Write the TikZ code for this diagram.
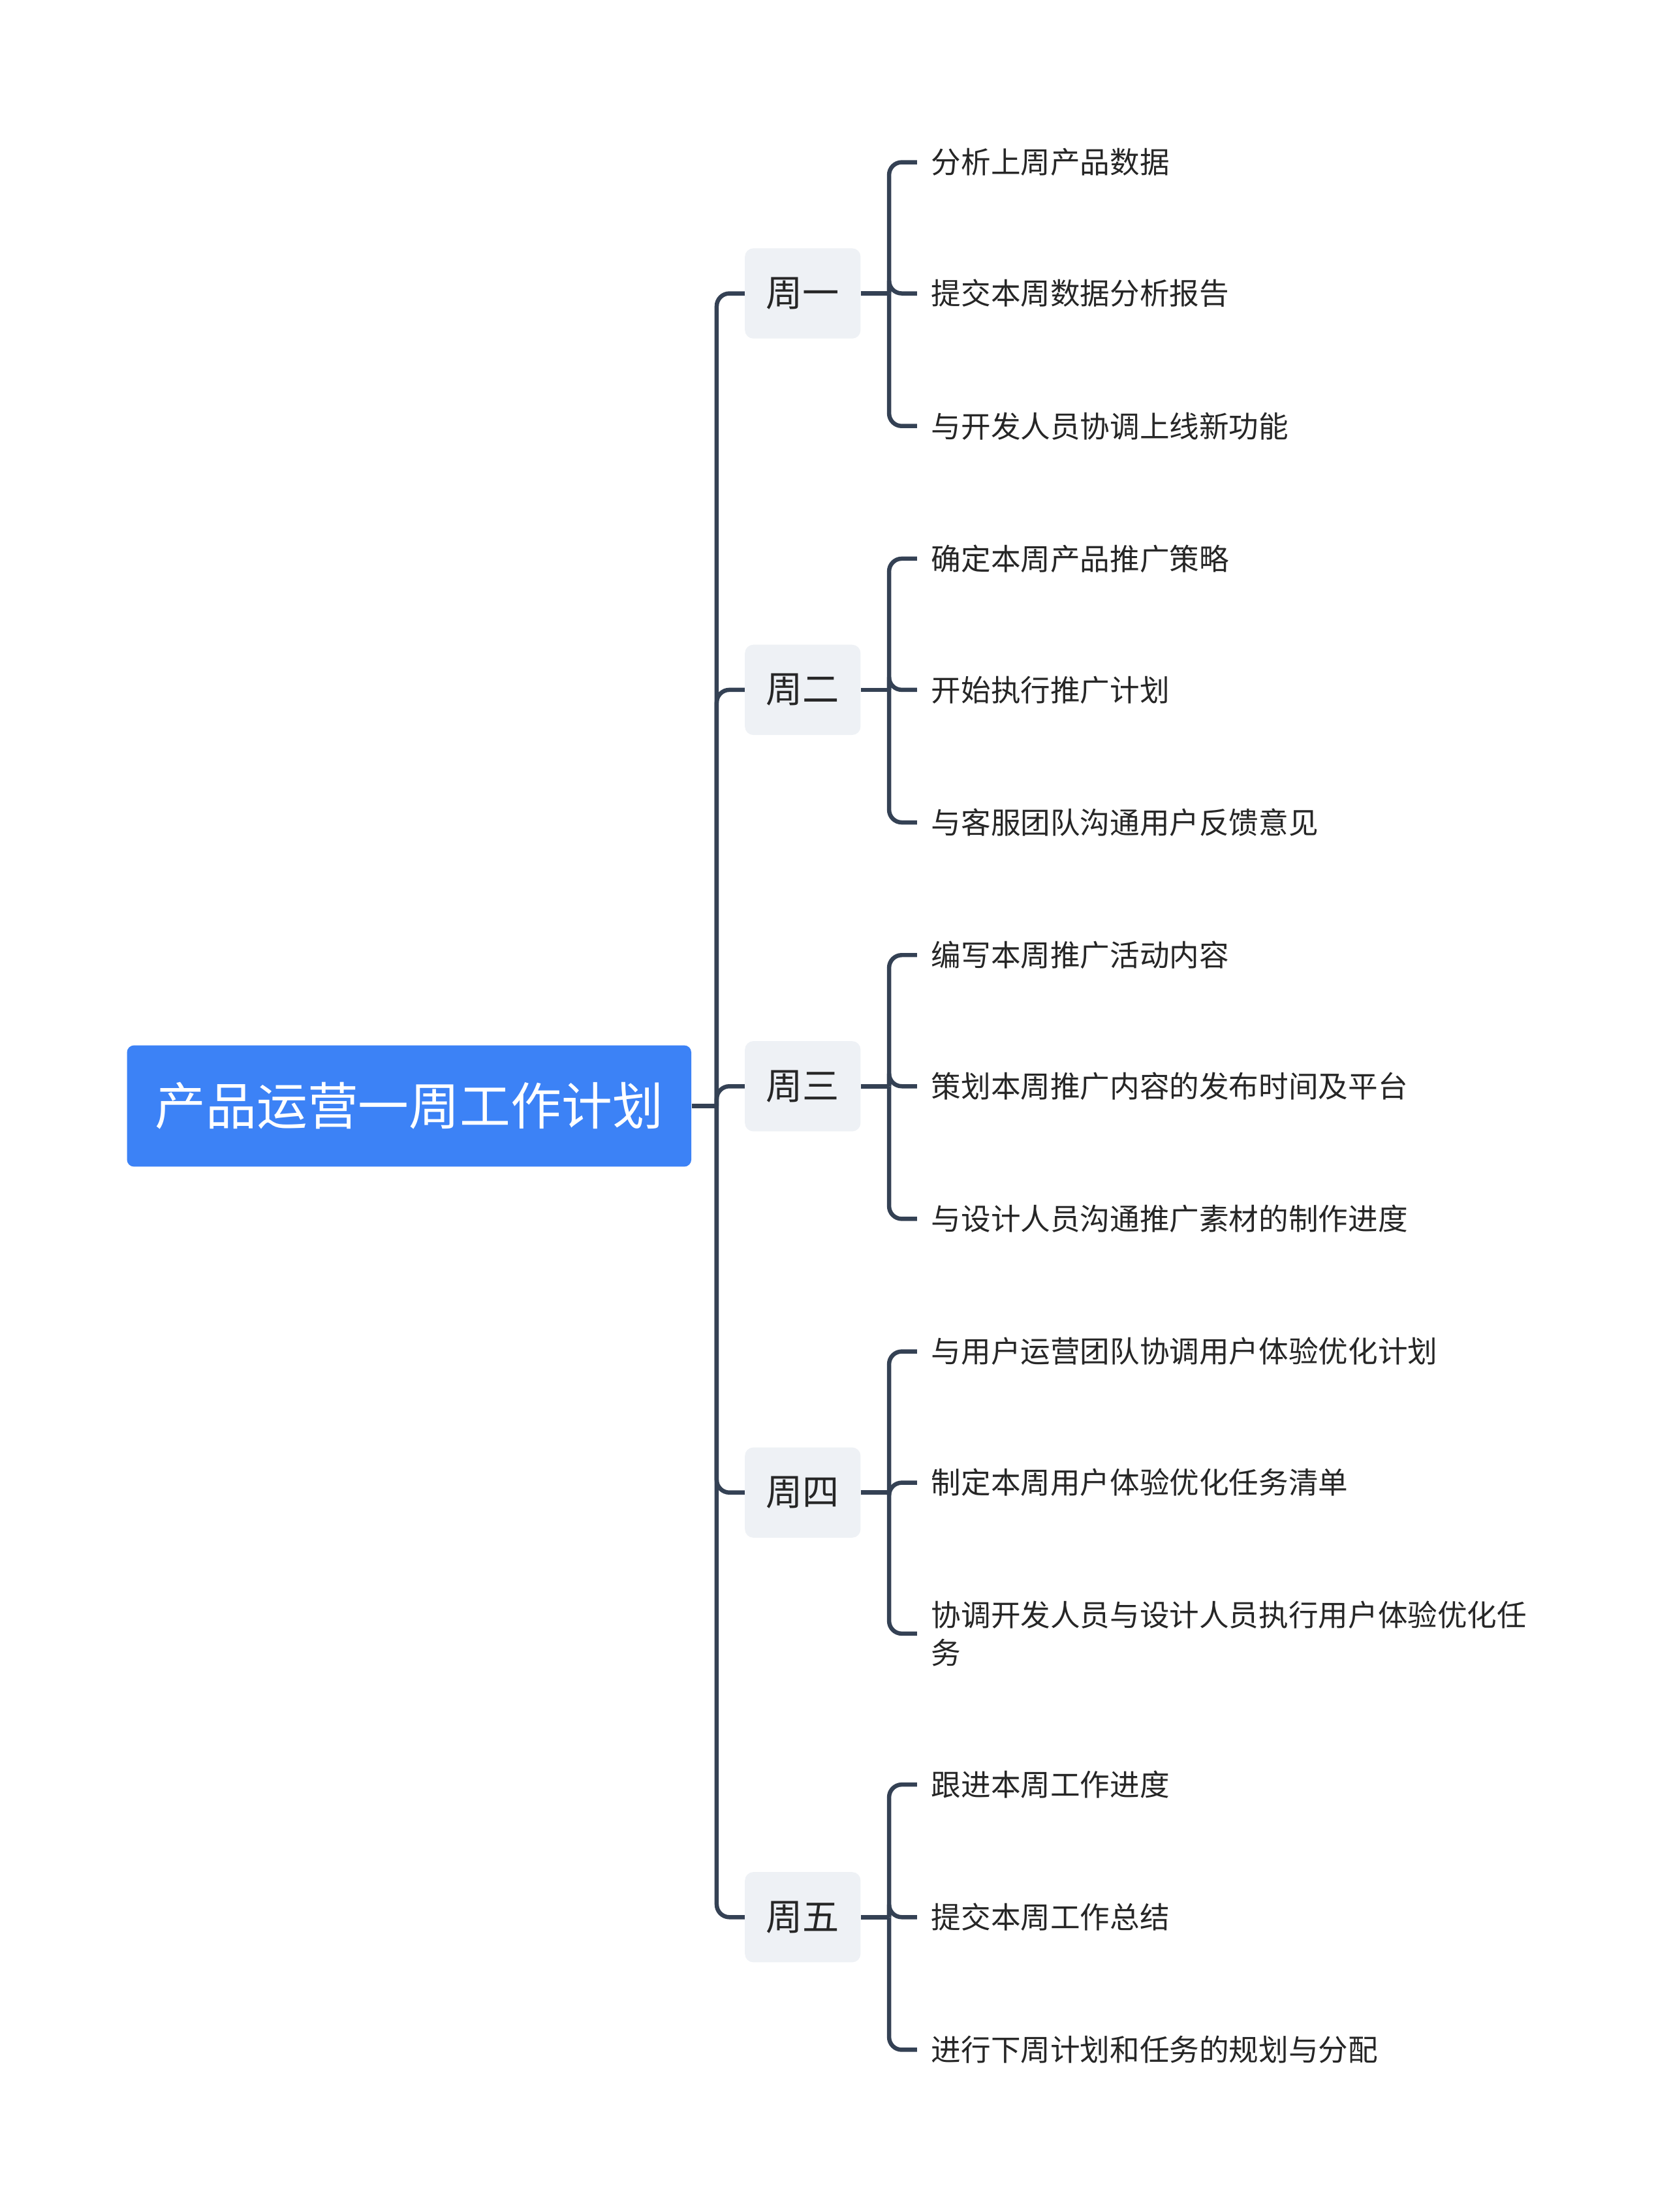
\documentclass[tikz,border=0pt]{standalone}
\usepackage{fontspec}
\setmainfont{Noto Sans CJK SC}
\usetikzlibrary{positioning}
\definecolor{rootblue}{HTML}{3C82F6}
\definecolor{weekgray}{HTML}{EEF1F5}
\definecolor{linegray}{HTML}{344154}
\tikzset{
  rootbox/.style={fill=rootblue,rounded corners=5pt,minimum width=400pt,minimum height=86pt,text=white,font=\fontsize{36}{40}\selectfont},
  weekbox/.style={fill=weekgray,rounded corners=6pt,minimum width=82pt,minimum height=64pt,text=black!85,font=\fontsize{26}{30}\selectfont},
  leaf/.style={anchor=west,inner xsep=10pt,inner ysep=5pt,align=left,text=black!85,font=\fontsize{21.1}{27}\selectfont},
  conn/.style={draw=linegray,line width=3pt,rounded corners=9pt}
}
\begin{document}
\begin{tikzpicture}[x=1pt,y=-1pt]
  \useasboundingbox (0,0) rectangle (1184,1568);
  \node[rootbox] (root) at (290,784) {产品运营一周工作计划};
  \coordinate (spine) at (508,784);
  \node[weekbox] (w1) at (569,208)  {周一};
  \node[weekbox] (w2) at (569,489)  {周二};
  \node[weekbox] (w3) at (569,770)  {周三};
  \node[weekbox] (w4) at (569,1058) {周四};
  \node[weekbox] (w5) at (569,1359) {周五};
  % leaves
  \node[leaf] (a1) at (650,115)  {分析上周产品数据};
  \node[leaf] (a2) at (650,208)  {提交本周数据分析报告};
  \node[leaf] (a3) at (650,302)  {与开发人员协调上线新功能};
  \node[leaf] (b1) at (650,396)  {确定本周产品推广策略};
  \node[leaf] (b2) at (650,489)  {开始执行推广计划};
  \node[leaf] (b3) at (650,583)  {与客服团队沟通用户反馈意见};
  \node[leaf] (c1) at (650,677)  {编写本周推广活动内容};
  \node[leaf] (c2) at (650,770)  {策划本周推广内容的发布时间及平台};
  \node[leaf] (c3) at (650,864)  {与设计人员沟通推广素材的制作进度};
  \node[leaf] (d1) at (650,958)  {与用户运营团队协调用户体验优化计划};
  \node[leaf] (d2) at (650,1051) {制定本周用户体验优化任务清单};
  \node[leaf] (d3) at (650,1158) {协调开发人员与设计人员执行用户体验优化任\\务};
  \node[leaf] (e1) at (650,1265) {跟进本周工作进度};
  \node[leaf] (e2) at (650,1359) {提交本周工作总结};
  \node[leaf] (e3) at (650,1453) {进行下周计划和任务的规划与分配};
  % root to weeks
  \draw[conn] (root.east) -- (spine);
  \foreach \w in {w1,w2,w3,w4,w5}
    \draw[conn] (spine) |- (\w.west);
  % weeks to leaves
  \foreach \w/\l in {w1/a,w2/b,w3/c,w4/d,w5/e} {
    \draw[conn] (\w.east) -- ++(20,0) coordinate (j\w);
    \foreach \i in {1,2,3}
      \draw[conn] (j\w) |- (\l\i.west);
  }
\end{tikzpicture}
\end{document}
